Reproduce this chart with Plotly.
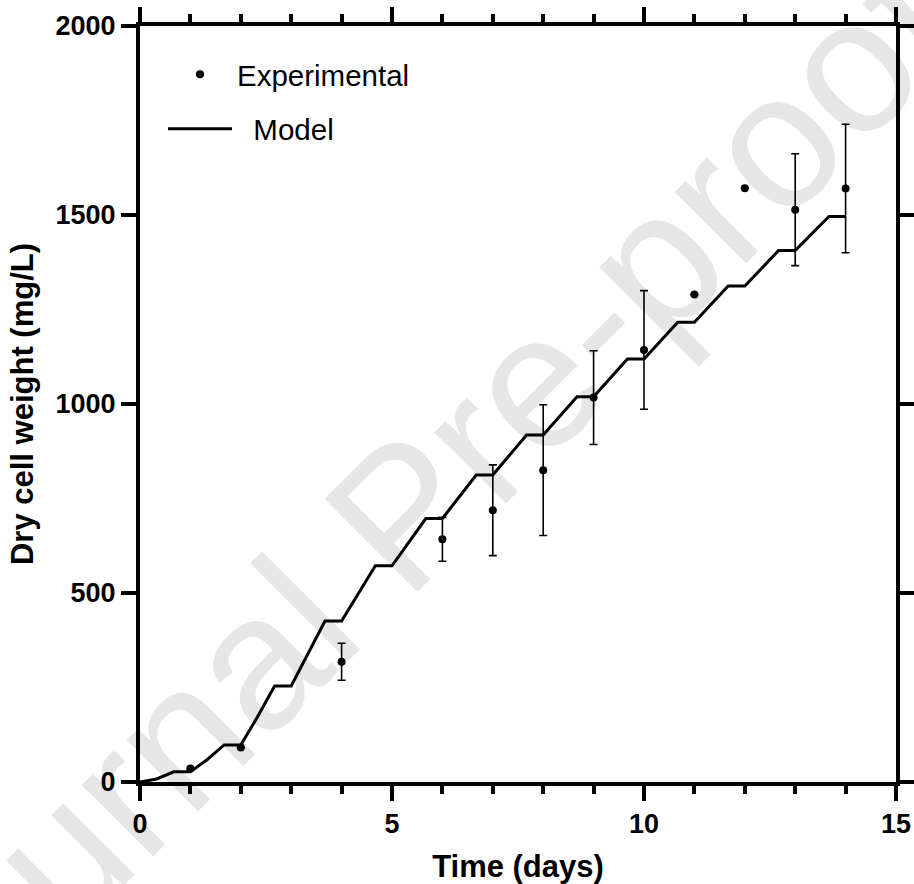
import plotly.graph_objects as go

# ---- data ----
exp_days = [1, 2, 4, 6, 7, 8, 9, 10, 11, 12, 13, 14]
exp_dcw = [36, 91, 318, 642, 719, 825, 1017, 1143, 1290, 1571, 1514, 1570]
exp_err = [0, 0, 49, 58, 120, 173, 124, 157, 0, 0, 148, 170]

model_days = [0, 0.33, 0.67, 1.0, 1.33, 1.67, 2.0, 2.33, 2.67, 3.0, 3.67, 4.0, 4.67, 5.0,
              5.67, 6.0, 6.67, 7.0, 7.67, 8.0, 8.67, 9.0, 9.67, 10.0, 10.67, 11.0,
              11.67, 12.0, 12.67, 13.0, 13.67, 14.0]
model_dcw = [0, 8, 27, 27, 59, 98, 98, 172, 254, 254, 426, 426, 572, 572,
             697, 697, 812, 812, 918, 918, 1019, 1019, 1119, 1119, 1216, 1216,
             1312, 1312, 1406, 1406, 1496, 1496]

x_ticks = [0, 5, 10, 15]
y_ticks = [0, 500, 1000, 1500, 2000]

FONT = "Liberation Sans, Arial, Helvetica, sans-serif"

fig = go.Figure()

fig.add_trace(go.Scatter(
    x=model_days, y=model_dcw, mode="lines", name="\u00a0\u00a0Model",
    line=dict(color="black", width=3), legendgroup="m", legendrank=2,
    hoverinfo="skip",
))

fig.add_trace(go.Scatter(
    x=exp_days, y=exp_dcw, mode="markers", name="Experimental",
    marker=dict(color="black", size=8),
    error_y=dict(type="data", array=exp_err, visible=True, color="black",
                 thickness=1.6, width=4),
    legendgroup="e", legendrank=1,
))

# watermark (drawn below the data)
fig.add_shape(
    type="line", xref="paper", yref="paper",
    x0=-0.0688, y0=-0.0263, x1=0.7249, y1=0.7677,
    line=dict(color="rgba(0,0,0,0)", width=0),
    layer="below",
    label=dict(text="Journal Pre-proof", textangle=-45, textposition="middle",
               yanchor="middle",
               font=dict(family=FONT, size=191, color="#e6e6e6")),
)

axis_common = dict(
    showgrid=False, zeroline=False, showline=True, linecolor="black", linewidth=4,
    mirror="allticks", ticks="outside", tickwidth=4, ticklen=15, tickcolor="black",
    tickfont=dict(family=FONT, size=27, color="black", weight="bold"),
    automargin=False,
)

fig.update_xaxes(
    range=[0, 15], tickvals=x_ticks, ticktext=[str(v) for v in x_ticks],
    minor=dict(dtick=1, ticks="outside", ticklen=8, tickwidth=4, tickcolor="black"),
    title=dict(text="<b>Time (days)</b>", font=dict(family=FONT, size=31, color="black"),
               standoff=20),
    **axis_common,
)
fig.update_yaxes(
    range=[0, 2000], tickvals=y_ticks, ticktext=[str(v) for v in y_ticks],
    title=dict(text="<b>Dry cell weight (mg/L)</b>", font=dict(family=FONT, size=31, color="black"),
               standoff=14),
    **axis_common,
)

fig.update_layout(
    width=914, height=884,
    margin=dict(l=140, r=18, t=26, b=102, autoexpand=False),
    paper_bgcolor="white", plot_bgcolor="white",
    showlegend=True,
    legend=dict(
        x=0.0304, y=0.970, xanchor="left", yanchor="top",
        bgcolor="rgba(0,0,0,0)", borderwidth=0,
        font=dict(family=FONT, size=29.5, color="black"),
        itemwidth=64, traceorder="grouped", tracegroupgap=13,
    ),
)

fig.write_html("out.html")
